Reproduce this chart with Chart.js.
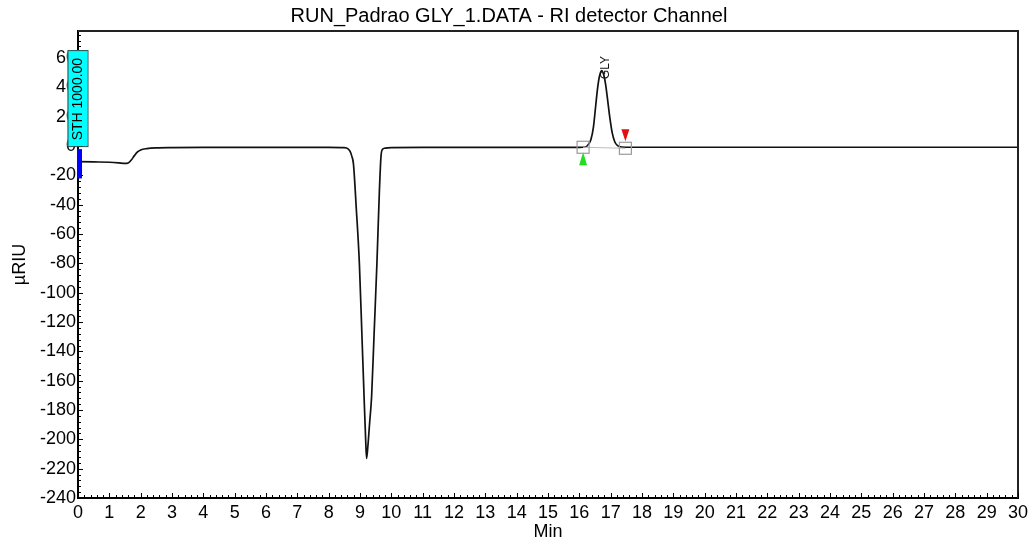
<!DOCTYPE html>
<html>
<head>
<meta charset="utf-8">
<title>RUN_Padrao GLY_1.DATA - RI detector Channel</title>
<script src="https://cdn.jsdelivr.net/npm/chart.js@4.4.1/dist/chart.umd.min.js"></script>
<style>
  html, body { margin: 0; padding: 0; background: #ffffff; }
  canvas { display: block; }
</style>
</head>
<body>
<canvas id="chromatogram" width="1034" height="548"></canvas>
<script>
// Retention time (min) and RI detector response (µRIU)
const timeMin = [
  0, 0.5, 1.0, 1.3, 1.5, 1.6, 1.7, 1.8, 1.9, 2.0, 2.2, 2.5, 3, 4, 5, 6, 7, 8,
  8.5, 8.62, 8.68, 8.74, 8.79, 8.88, 8.98, 9.06, 9.13, 9.18, 9.21, 9.25, 9.31,
  9.37, 9.45, 9.54, 9.62, 9.67, 9.71, 9.8, 10, 11, 12, 13, 14, 15, 16, 16.2,
  16.3, 16.37, 16.45, 16.52, 16.58, 16.64, 16.71, 16.78, 16.84, 16.9, 16.97,
  17.05, 17.13, 17.22, 17.35, 18, 20, 22, 24, 26, 28, 30
];
const signalURIU = [
  -10.6, -10.8, -11.0, -11.4, -11.8, -11.5, -9.5, -6.5, -4.0, -2.6, -1.7, -1.2, -1.0, -0.9, -0.9, -0.9, -0.9, -0.9,
  -1.1, -1.9, -3.5, -7, -12, -42, -80, -128, -171, -200, -213, -205, -188,
  -171, -128, -80, -30, -7, -2.5, -1.4, -1.0, -0.9, -0.9, -0.9, -0.9, -0.9, -0.9, -0.6,
  1.5, 4.5, 13, 27, 39, 47.5, 51.5, 48.5, 42, 32, 20,
  9, 3, 0.3, -0.6, -0.8, -0.8, -0.8, -0.8, -0.8, -0.8, -0.8
];

// Axis ticks
const xTickValues = [0,1,2,3,4,5,6,7,8,9,10,11,12,13,14,15,16,17,18,19,20,21,22,23,24,25,26,27,28,29,30];
const yTickValues = [60,40,20,0,-20,-40,-60,-80,-100,-120,-140,-160,-180,-200,-220,-240];

// Injection event and integrated peak
const eventTime = 0;
const eventLabel = 'STH 1000.00';
const peakName = 'GLY';
const peakApexTime = 16.71;
const peakApexValue = 51.5;
const peakStartTime = 16.12;
const peakEndTime = 17.47;
const peakBaseValue = -0.8;

const FONT = "'Liberation Sans', Arial, Helvetica, sans-serif";

const points = timeMin.map((t, i) => ({ x: t, y: signalURIU[i] }));

const whiteBackground = {
  id: 'whiteBackground',
  beforeDraw(chart) {
    const ctx = chart.ctx;
    ctx.save();
    ctx.fillStyle = '#ffffff';
    ctx.fillRect(0, 0, chart.width, chart.height);
    ctx.restore();
  }
};

// Frame on top/right plus the small inward tick marks on both axes
const frameAndTicks = {
  id: 'frameAndTicks',
  afterDatasetsDraw(chart) {
    const { ctx, chartArea: a, scales: { x, y } } = chart;
    ctx.save();
    ctx.strokeStyle = '#222';
    ctx.lineWidth = 2;
    ctx.beginPath();
    ctx.moveTo(a.left, a.top);
    ctx.lineTo(a.right, a.top);
    ctx.lineTo(a.right, a.bottom);
    ctx.stroke();

    ctx.strokeStyle = '#000';
    ctx.lineWidth = 1;
    ctx.beginPath();
    for (let v = 0; v <= 30.0001; v += 0.2) {
      const px = Math.round(x.getPixelForValue(v)) + 0.5;
      const major = Math.abs(v - Math.round(v)) < 1e-6;
      const len = major ? 5 : 3;
      ctx.moveTo(px, a.bottom);
      ctx.lineTo(px, a.bottom - len);
    }
    for (let v = -240; v <= y.max; v += 4) {
      const py = Math.round(y.getPixelForValue(v)) + 0.5;
      const major = v % 20 === 0;
      const len = major ? 5 : 3;
      ctx.moveTo(a.left, py);
      ctx.lineTo(a.left + len, py);
    }
    ctx.stroke();
    ctx.restore();
  }
};

// Event box at injection, peak label and integration markers
const annotations = {
  id: 'annotations',
  afterDraw(chart) {
    const { ctx, scales: { x, y } } = chart;
    ctx.save();

    // injection event box
    const ex = x.getPixelForValue(eventTime);
    const ey0 = y.getPixelForValue(0);
    const boxW = 20, boxH = 96;
    const bx = ex - 10.5, by = ey0 - boxH;
    ctx.fillStyle = '#00ffff';
    ctx.fillRect(bx, by, boxW, boxH);
    ctx.strokeStyle = '#2f4f4f';
    ctx.lineWidth = 1;
    ctx.strokeRect(bx + 0.5, by + 0.5, boxW, boxH);
    ctx.save();
    ctx.translate(bx + boxW / 2 + 0.5, by + boxH / 2 + 1);
    ctx.rotate(-Math.PI / 2);
    ctx.fillStyle = '#000';
    ctx.font = '14px ' + FONT;
    ctx.textAlign = 'center';
    ctx.textBaseline = 'middle';
    ctx.fillText(eventLabel, 0, 0);
    ctx.restore();

    // blue injection bar
    const barTop = y.getPixelForValue(0);
    const barBot = y.getPixelForValue(-20);
    ctx.fillStyle = '#0000ff';
    ctx.fillRect(ex - 1, barTop + 3, 5, barBot - barTop);

    // integration baseline
    const sx = x.getPixelForValue(peakStartTime);
    const exx = x.getPixelForValue(peakEndTime);
    const by0 = y.getPixelForValue(peakBaseValue);
    ctx.strokeStyle = '#bdbdbd';
    ctx.lineWidth = 1;
    ctx.beginPath();
    ctx.moveTo(sx, by0);
    ctx.lineTo(exx, by0 + 1);
    ctx.stroke();

    // start / end squares
    ctx.strokeStyle = '#9a9a9a';
    ctx.lineWidth = 1.2;
    ctx.strokeRect(sx - 6, by0 - 6, 12, 12);
    ctx.strokeRect(exx - 6, by0 - 5, 12, 12);

    // start marker (green, up) and end marker (red, down)
    ctx.fillStyle = '#22dd22';
    ctx.beginPath();
    ctx.moveTo(sx, by0 + 5);
    ctx.lineTo(sx + 4, by0 + 18);
    ctx.lineTo(sx - 4, by0 + 18);
    ctx.closePath();
    ctx.fill();
    ctx.fillStyle = '#e01010';
    ctx.beginPath();
    ctx.moveTo(exx - 4, by0 - 18);
    ctx.lineTo(exx + 4, by0 - 18);
    ctx.lineTo(exx, by0 - 6);
    ctx.closePath();
    ctx.fill();

    // peak name
    const px = x.getPixelForValue(peakApexTime);
    const py = y.getPixelForValue(peakApexValue);
    ctx.save();
    ctx.translate(px + 4, py - 3);
    ctx.rotate(-Math.PI / 2);
    ctx.fillStyle = '#111';
    ctx.font = '12px ' + FONT;
    ctx.textAlign = 'center';
    ctx.textBaseline = 'middle';
    ctx.fillText(peakName, 0, 0);
    ctx.restore();

    ctx.restore();
  }
};

new Chart(document.getElementById('chromatogram'), {
  type: 'line',
  data: {
    datasets: [{
      data: points,
      borderColor: '#111111',
      borderWidth: 1.7,
      pointRadius: 0,
      fill: false,
      cubicInterpolationMode: 'monotone'
    }]
  },
  options: {
    responsive: false,
    animation: false,
    devicePixelRatio: 1,
    layout: { padding: { left: 0, right: 16, top: 0, bottom: 0 } },
    plugins: {
      legend: { display: false },
      tooltip: { enabled: false },
      title: {
        display: true,
        text: 'RUN_Padrao GLY_1.DATA - RI detector Channel',
        color: '#000',
        font: { family: FONT, size: 20, weight: 'normal' },
        padding: { top: 4, bottom: 3 }
      }
    },
    scales: {
      x: {
        type: 'linear',
        min: 0,
        max: 30,
        afterBuildTicks: (s) => { s.ticks = xTickValues.map(v => ({ value: v })); },
        afterFit: (s) => { s.height = 50; },
        grid: { display: true, drawOnChartArea: false, drawTicks: false },
        border: { display: true, color: '#000', width: 2 },
        ticks: {
          color: '#000',
          font: { family: FONT, size: 18 },
          padding: 4,
          maxRotation: 0,
          autoSkip: false
        },
        title: {
          display: true,
          text: 'Min',
          color: '#000',
          font: { family: FONT, size: 18 },
          padding: { top: 0, bottom: 5 }
        }
      },
      y: {
        type: 'linear',
        min: -240,
        max: 78.5,
        afterBuildTicks: (s) => { s.ticks = yTickValues.map(v => ({ value: v })); },
        afterFit: (s) => { s.width = 78; },
        grid: { display: true, drawOnChartArea: false, drawTicks: false },
        border: { display: true, color: '#000', width: 2 },
        ticks: {
          color: '#000',
          font: { family: FONT, size: 18 },
          padding: 2,
          autoSkip: false
        },
        title: {
          display: true,
          text: 'µRIU',
          color: '#000',
          font: { family: FONT, size: 18 },
          padding: { top: 9, bottom: 0 }
        }
      }
    }
  },
  plugins: [whiteBackground, frameAndTicks, annotations]
});
</script>
</body>
</html>
